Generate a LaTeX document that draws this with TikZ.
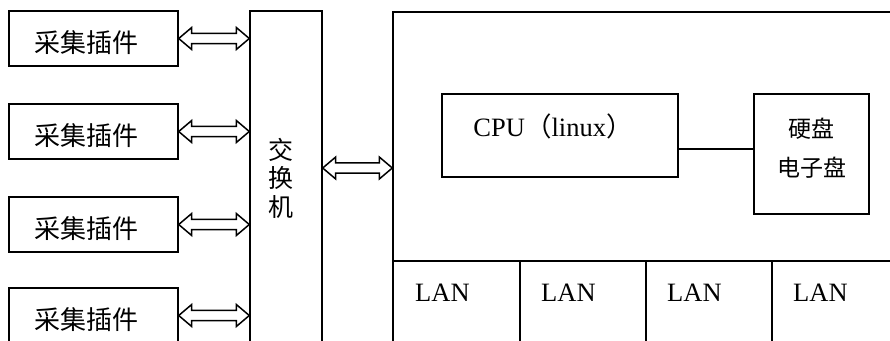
\documentclass[tikz,border=0pt]{standalone}
\usepackage{fontspec}
\setmainfont{Liberation Serif}
\newfontfamily\cjk{Noto Sans CJK SC}
\usetikzlibrary{calc}
\tikzset{
  box/.style={draw, line width=1.4pt, inner sep=0pt},
  conn/.style={draw, line width=1.5pt, line join=miter},
  bigtxt/.style={inner sep=0pt, font=\fontsize{26.5}{30}\selectfont},
  cjktxt/.style={inner sep=0pt, font=\cjk\fontsize{26}{30}\selectfont},
  smcjk/.style={inner sep=0pt, font=\cjk\fontsize{23}{28}\selectfont},
}
\newcommand\bidir[2]{\draw[conn] let \p1=(#1), \p2=(#2) in
  (\p1) -- (\x1+13pt,\y1+11pt) -- (\x1+13pt,\y1+5.2pt) -- (\x2-13pt,\y1+5.2pt)
  -- (\x2-13pt,\y1+11pt) -- (\x2,\y1) -- (\x2-13pt,\y1-11pt) -- (\x2-13pt,\y1-5.2pt)
  -- (\x1+13pt,\y1-5.2pt) -- (\x1+13pt,\y1-11pt) -- cycle;}
\begin{document}
\begin{tikzpicture}[x=1pt,y=-1pt]
\useasboundingbox (0,0) rectangle (890,340);
\clip (0,0) rectangle (890,340);
% collectors
\foreach \i/\y in {1/38.5,2/131.5,3/224.5,4/315.5}{
  \node[box, minimum width=169pt, minimum height=55pt] (c\i) at (93.5,\y) {};
  \node[cjktxt] (ct\i) at (86,\y+4) {采集插件};
}
% switch
\node[box, minimum width=72pt, minimum height=349pt] (sw) at (286,185.5) {};
\node[cjktxt, align=center, font=\cjk\fontsize{25}{28.5}\selectfont] (swt) at (281,178) {交\\换\\机};
% right box
\node[box, minimum width=507pt, minimum height=348pt] (rb) at (646.5,186) {};
\draw[line width=1.4pt] (393,261) -- (900,261);
\foreach \x in {520,646,772}{ \draw[line width=1.4pt] (\x,261) -- (\x,360); }
\foreach \i/\x in {1/415,2/541,3/667,4/793}{
  \node[bigtxt, anchor=west] (lt\i) at (\x,293) {LAN};
}
% CPU
\node[box, minimum width=236pt, minimum height=83pt] (cpu) at (560,135.5) {};
\node[bigtxt] (cput) at (553,126) {CPU{\cjk （}linux{\cjk ）}};
% disk
\node[box, minimum width=115pt, minimum height=120pt] (disk) at (811.5,154) {};
\node[smcjk] (dt1) at (811,129) {硬盘};
\node[smcjk] (dt2) at (812,168) {电子盘};
\draw[line width=1.4pt] ([yshift=-13.5pt]cpu.east) -- ([yshift=-13.5pt]cpu.east -| disk.west);
% arrows
\foreach \i in {1,2,3,4}{ \bidir{c\i.east}{c\i.east -| sw.west} }
\bidir{[yshift=17.5pt]sw.east}{[yshift=17.5pt]sw.east -| rb.west}
\end{tikzpicture}
\end{document}
